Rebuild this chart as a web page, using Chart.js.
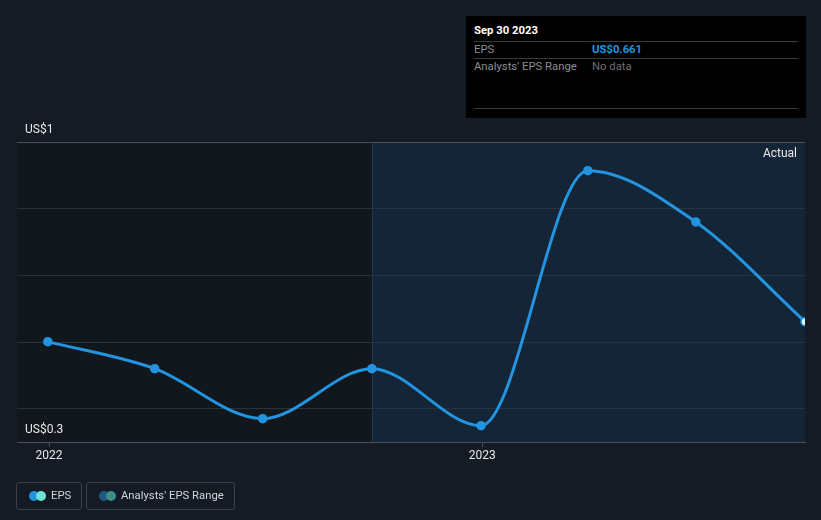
<!DOCTYPE html>
<html>
<head>
<meta charset="utf-8">
<script src="https://cdn.jsdelivr.net/npm/chart.js@4/dist/chart.umd.min.js"></script>
<style>
  html, body { margin: 0; padding: 0; background: #151b24; }
  body { width: 821px; height: 520px; position: relative; overflow: hidden; font-family: Roboto, "Noto Sans", sans-serif; }
  #wrap { position: absolute; left: 0; top: 0; width: 821px; height: 520px; }
  .tip { position: absolute; left: 466px; top: 16px; width: 340px; height: 102px; background: #000; font-size: 11.3px; }
  .tip .row { position: absolute; left: 8px; right: 8px; border-top: 1px solid #3a3a3a; height: 16px; }
  .tip .lab { position: absolute; left: 0; top: 1px; color: #8e8e8e; }
  .tip .val { position: absolute; left: 118px; top: 1px; }
  .legend { position: absolute; top: 482px; height: 26px; border: 1px solid #3c424a; border-radius: 3px; font-size: 11.3px; color: #d2d4d6; }
  .legend .dots { position: absolute; left: 12px; top: 8px; width: 18px; height: 10px; }
  .legend .dots i { position: absolute; top: 0; width: 10px; height: 10px; border-radius: 50%; }
  .legend span { position: absolute; top: 6px; }
</style>
</head>
<body>
<div id="wrap"><canvas id="chart" width="821" height="520"></canvas></div>

<div class="tip">
  <div style="position:absolute;left:8px;top:8px;color:#fff;font-weight:bold;">Sep 30 2023</div>
  <div class="row" style="top:25px;"><span class="lab">EPS</span><span class="val" style="color:#2394df;font-weight:bold;">US$0.661</span></div>
  <div class="row" style="top:42px;"><span class="lab">Analysts' EPS Range</span><span class="val" style="color:#6e6e6e;">No data</span></div>
  <div class="row" style="top:92px;"></div>
</div>

<div class="legend" style="left:16px;width:64px;">
  <div class="dots"><i style="left:0;background:#2394df;"></i><i style="left:7px;background:#6fe3d8;"></i></div>
  <span style="left:34px;">EPS</span>
</div>
<div class="legend" style="left:86px;width:147px;">
  <div class="dots"><i style="left:0;background:#1d5a86;"></i><i style="left:7px;background:#3f8b88;"></i></div>
  <span style="left:34px;">Analysts' EPS Range</span>
</div>

<script>
// quarter-end dates and EPS (US$)
const dates = ["2021-12-31", "2022-03-31", "2022-06-30", "2022-09-30", "2022-12-31", "2023-03-31", "2023-06-30", "2023-09-30"];
const eps = [0.601, 0.520, 0.370, 0.520, 0.349, 1.114, 0.960, 0.661];
const yearTicks = ["2022", "2023"];
const yTickLabels = ["US$1", "US$0.3"];
const yGrid = [0.3, 0.4, 0.6, 0.8, 1.0, 1.2];

// days since Jan 1 2022
const base = Date.UTC(2022, 0, 1);
const dayOf = (s) => Math.round((Date.parse(s + "T00:00:00Z") - base) / 86400000);
const xs = dates.map(dayOf);
const yearDays = yearTicks.map((y) => dayOf(y + "-01-01"));
const actualStart = dayOf("2022-09-30");

const background = {
  id: "background",
  beforeDraw(chart) {
    const { ctx, chartArea: a, scales } = chart;
    const xs0 = scales.x.getPixelForValue(actualStart);
    ctx.save();
    ctx.fillStyle = "#12171e";
    ctx.fillRect(a.left, a.top, xs0 - a.left, a.bottom - a.top);
    ctx.fillStyle = "#132537";
    ctx.fillRect(xs0, a.top, a.right - xs0, a.bottom - a.top);
    ctx.strokeStyle = "#1d3852";
    ctx.lineWidth = 1;
    ctx.beginPath();
    ctx.moveTo(Math.round(xs0) + 0.5, a.top);
    ctx.lineTo(Math.round(xs0) + 0.5, a.bottom);
    ctx.stroke();
    ctx.restore();
  },
  afterDraw(chart) {
    const { ctx, chartArea: a, scales } = chart;
    ctx.save();
    ctx.font = "12px Roboto";
    ctx.fillStyle = "#e8e8e8";
    ctx.textBaseline = "bottom";
    ctx.textAlign = "left";
    ctx.fillText(yTickLabels[0], 25, scales.y.getPixelForValue(1.2) - 6);
    ctx.fillText(yTickLabels[1], 25, scales.y.getPixelForValue(0.3) - 6);
    ctx.textAlign = "right";
    ctx.textBaseline = "middle";
    ctx.fillText("Actual", a.right - 8, a.top + 12);
    ctx.restore();
  }
};

new Chart(document.getElementById("chart"), {
  type: "line",
  data: {
    datasets: [{
      label: "EPS",
      data: xs.map((x, i) => ({ x: x, y: eps[i] })),
      borderColor: "#2394df",
      borderWidth: 3,
      cubicInterpolationMode: "monotone",
      pointRadius: 4,
      pointBorderWidth: 1.5,
      pointBackgroundColor: eps.map((v, i) => (i === eps.length - 1 ? "#e6f3fc" : "#2394df")),
      pointBorderColor: "#2394df"
    }]
  },
  options: {
    responsive: false,
    animation: false,
    layout: { padding: { left: 17, right: 16, top: 142, bottom: 52 } },
    plugins: { legend: { display: false }, tooltip: { enabled: false } },
    scales: {
      x: {
        type: "linear",
        min: -27,
        max: 637,
        afterBuildTicks: (s) => { s.ticks = yearDays.map((v) => ({ value: v })); },
        afterFit: (s) => { s.height = 26; },
        ticks: {
          autoSkip: false,
          maxRotation: 0,
          padding: 2,
          color: "#e8e8e8",
          font: { family: "Roboto", size: 12 },
          callback: (v) => yearTicks[yearDays.indexOf(v)]
        },
        grid: { drawOnChartArea: false, drawTicks: true, tickLength: 5, color: "#4a5058" },
        border: { color: "#4a5058", width: 1 }
      },
      y: {
        min: 0.3,
        max: 1.2,
        afterBuildTicks: (s) => { s.ticks = yGrid.map((v) => ({ value: v })); },
        afterFit: (s) => { s.width = 0; },
        ticks: { display: false },
        grid: {
          drawTicks: false,
          color: (c) => (c.tick && c.tick.value === 1.2 ? "#4a5058" : "#2a323c")
        },
        border: { display: false }
      }
    }
  },
  plugins: [background]
});
</script>
</body>
</html>
